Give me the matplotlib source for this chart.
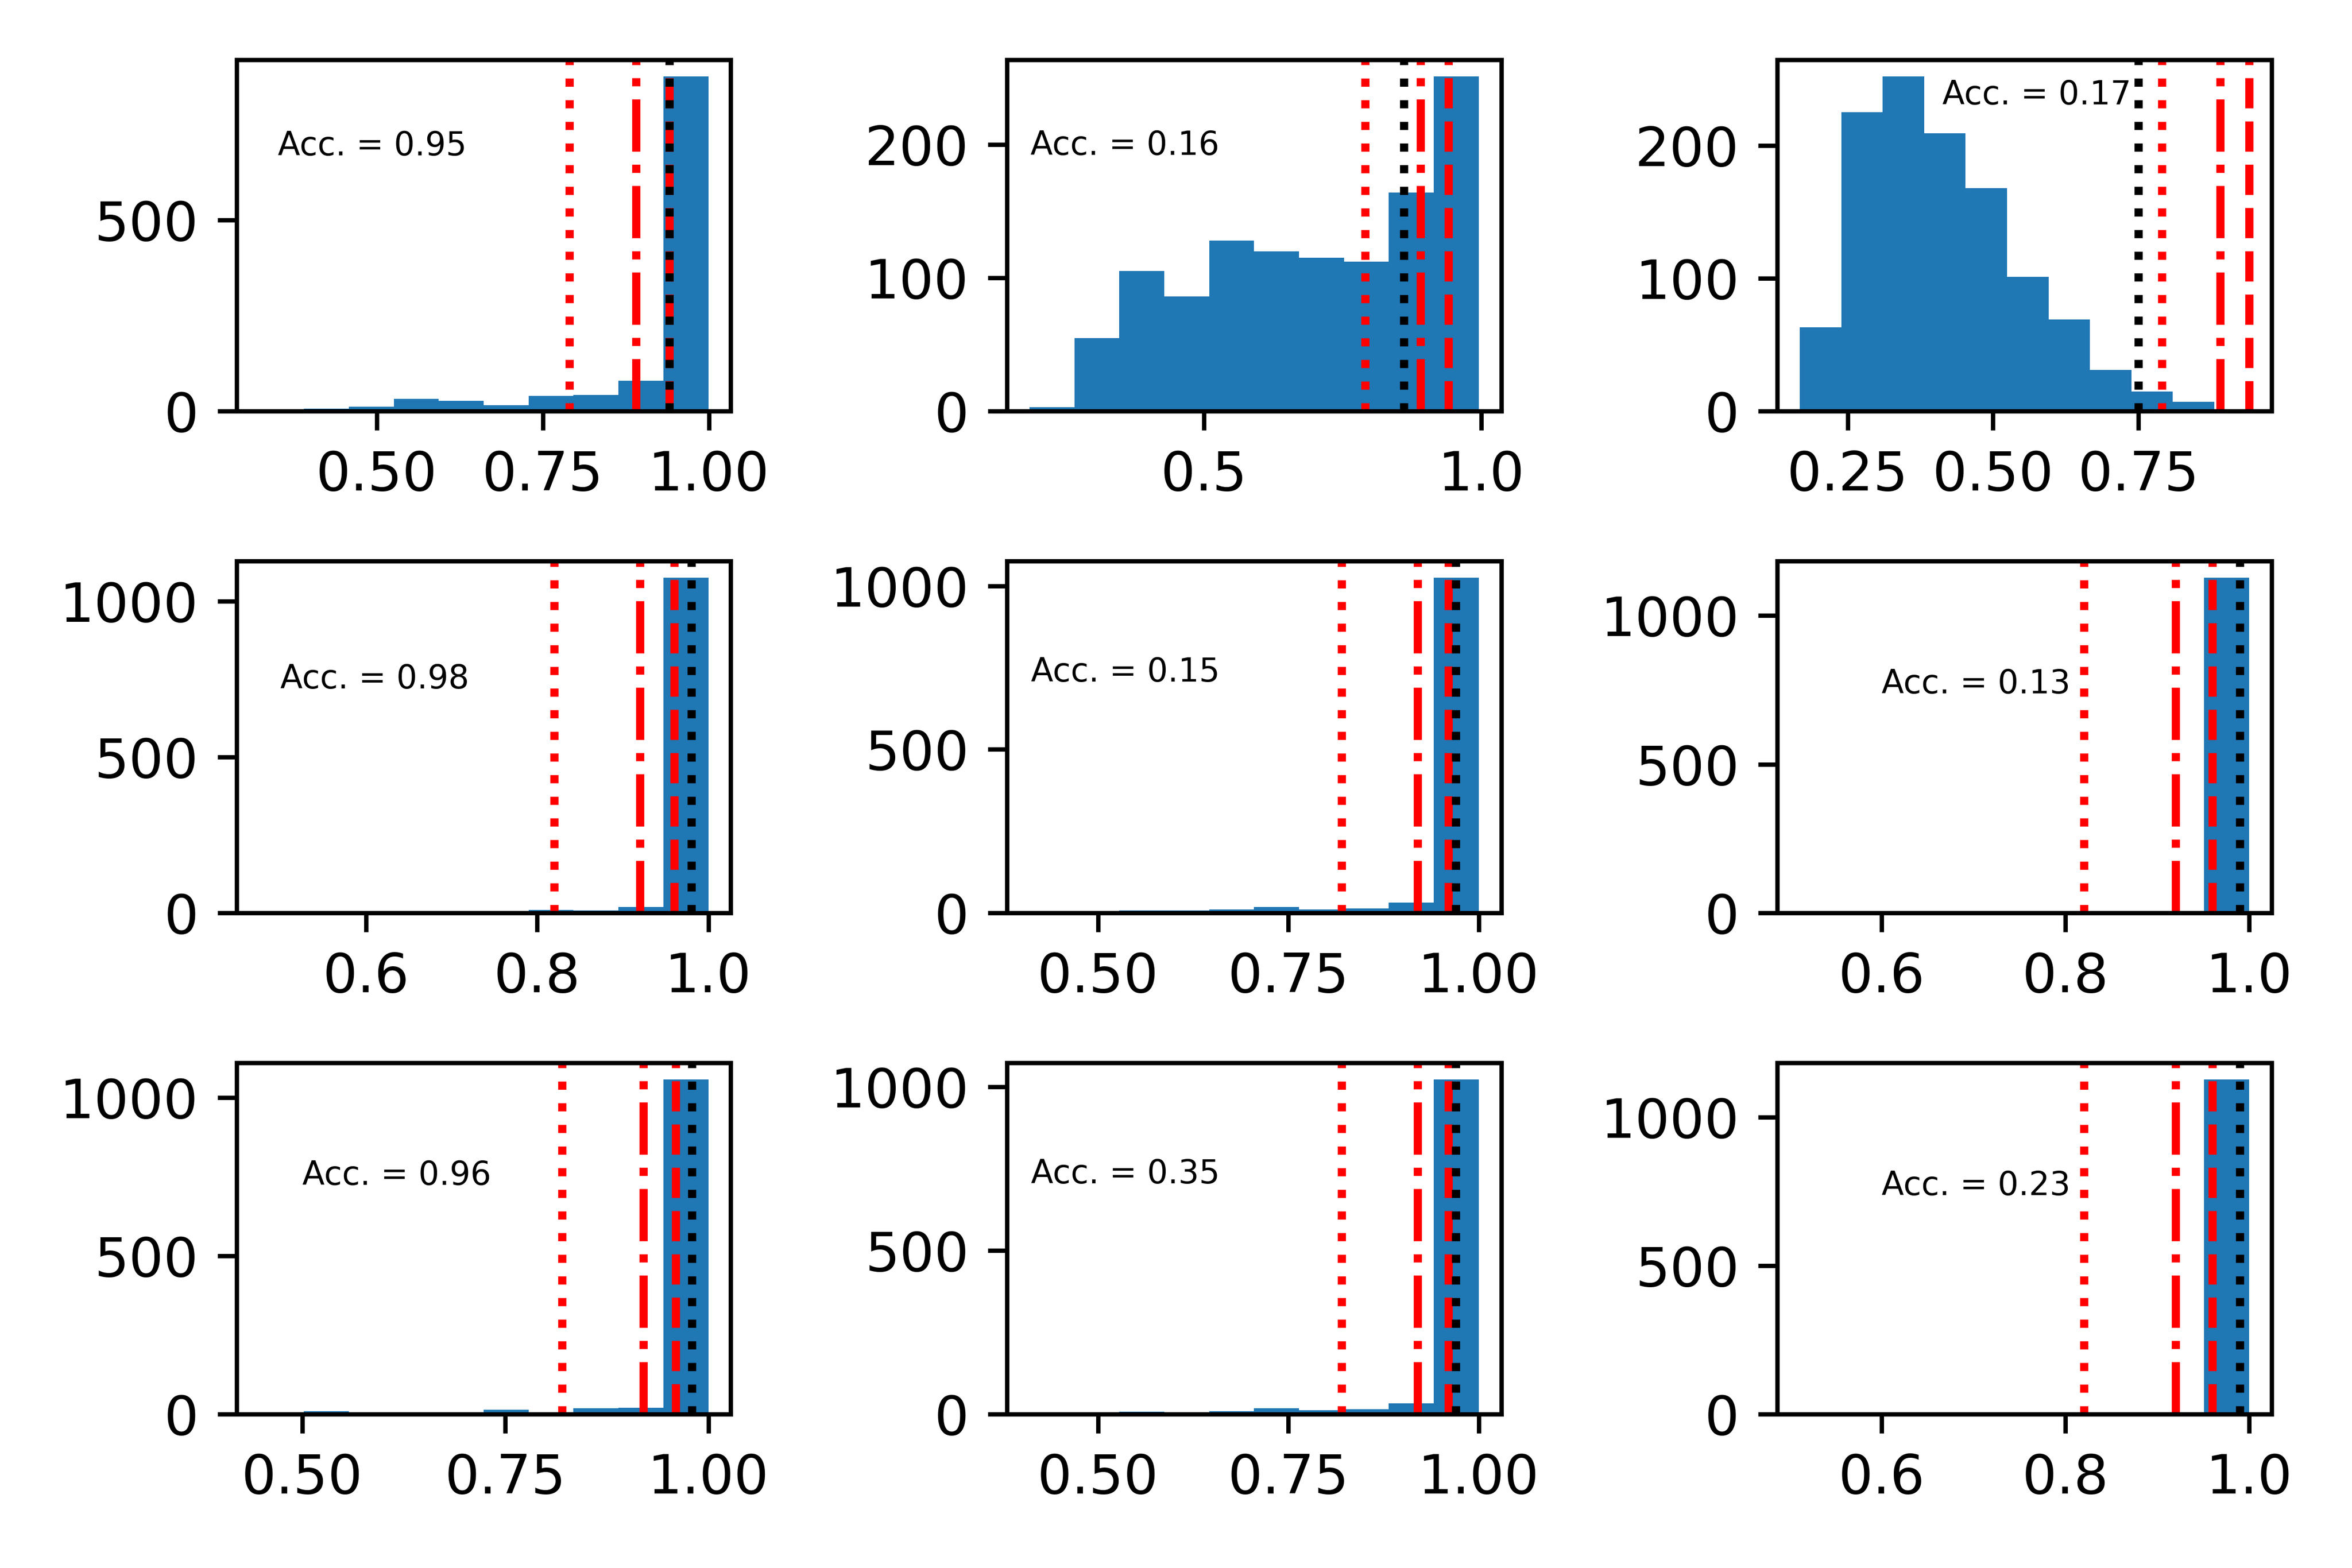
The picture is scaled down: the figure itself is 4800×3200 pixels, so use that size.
import numpy as np
import matplotlib
matplotlib.use("Agg")
import matplotlib.pyplot as plt
from matplotlib.ticker import MaxNLocator

# histogram counts per panel (10 bins each)
counts = [
    [1, 7, 12, 32, 28, 16, 40, 43, 80, 876],
    [3, 55, 105, 86, 128, 120, 115, 112, 164, 251],
    [63, 225, 252, 209, 168, 101, 69, 31, 15, 7],
    [1, 0, 1, 2, 1, 3, 10, 8, 19, 1075],
    [1, 1, 8, 7, 10, 18, 11, 14, 32, 1025],
    [1, 0, 0, 0, 0, 1, 0, 1, 2, 1127],
    [1, 10, 0, 1, 2, 14, 3, 19, 21, 1057],
    [1, 1, 8, 6, 9, 19, 13, 15, 33, 1023],
    [1, 0, 0, 0, 0, 1, 0, 1, 2, 1128],
]
# histogram range (min, max of the scores) per panel
bin_lo = [0.323, 0.185, 0.168, 0.475, 0.410, 0.511, 0.447, 0.410, 0.511]
bin_hi = [0.999, 0.995, 0.880, 1.000, 1.000, 1.000, 1.000, 1.000, 1.000]

# red reference lines per row: dotted, dash-dot, dashed
row_lines = [
    [0.79, 0.89, 0.94],
    [0.82, 0.92, 0.96],
    [0.82, 0.92, 0.96],
]
# black dotted line per panel
black_line = [0.94, 0.86, 0.75, 0.98, 0.97, 0.99, 0.98, 0.97, 0.99]

acc = [0.95, 0.16, 0.17, 0.98, 0.15, 0.13, 0.96, 0.35, 0.23]
text_x = [0.351, 0.187, 0.413, 0.50, 0.412, 0.60, 0.50, 0.412, 0.60]
text_y = [670, 192, 231, 720, 707, 739, 725, 705, 739]

fig, axes = plt.subplots(3, 3, figsize=(6, 4), dpi=800)
fig.subplots_adjust(left=0.1006, right=0.9658, top=0.962, bottom=0.098,
                    wspace=0.559, hspace=0.426)

for i, ax in enumerate(axes.flat):
    edges = np.linspace(bin_lo[i], bin_hi[i], 11)
    centers = (edges[:-1] + edges[1:]) / 2
    ax.hist(centers, bins=edges, weights=counts[i])
    r = row_lines[i // 3]
    ax.axvline(r[0], color='r', linestyle=':')
    ax.axvline(r[1], color='r', linestyle='-.')
    ax.axvline(r[2], color='r', linestyle='--')
    ax.axvline(black_line[i], color='k', linestyle=':')
    ax.text(text_x[i], text_y[i], 'Acc. = %.2f' % acc[i], fontsize=6)
    ax.xaxis.set_major_locator(MaxNLocator(nbins=3, steps=[1, 2, 2.5, 5, 10]))

fig.savefig('out.png')
